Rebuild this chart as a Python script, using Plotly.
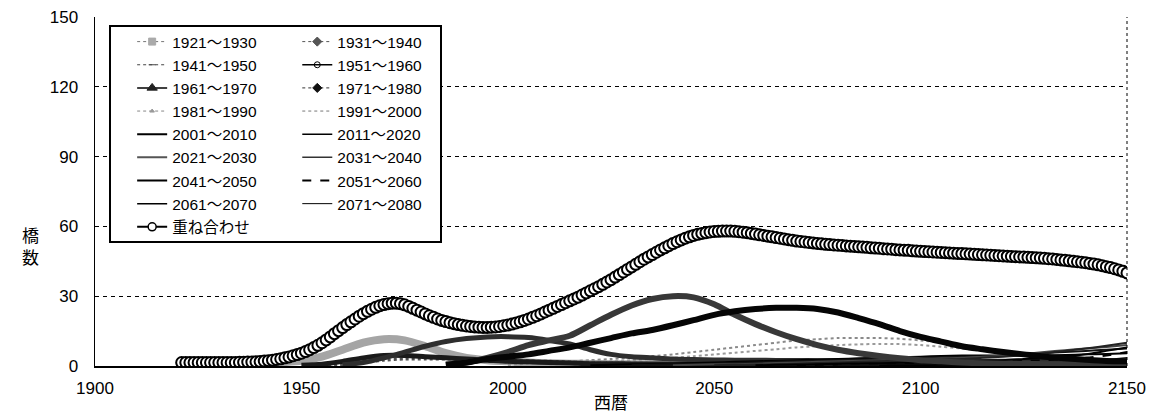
import plotly.graph_objects as go

# ---------------- data ----------------
sum_years = list(range(1921, 2151))
sum_values = [
    1.5, 1.5, 1.5, 1.5, 1.5, 1.5, 1.5, 1.5, 1.5, 1.5,
    1.5, 1.5, 1.5, 1.5, 1.6, 1.6, 1.7, 1.7, 1.8, 1.9,
    2.1, 2.3, 2.5, 2.8, 3.1, 3.5, 3.9, 4.4, 4.9, 5.5,
    6.2, 7.0, 7.9, 8.9, 10.0, 11.2, 12.5, 13.9, 15.2, 16.5,
    17.8, 19.0, 20.2, 21.4, 22.5, 23.5, 24.4, 25.2, 25.9, 26.4,
    26.8, 27.0, 27.0, 26.8, 26.3, 25.6, 24.8, 24.0, 23.2, 22.4,
    21.6, 20.9, 20.2, 19.6, 19.1, 18.6, 18.2, 17.8, 17.5, 17.2,
    17.0, 16.8, 16.7, 16.6, 16.6, 16.7, 16.8, 17.0, 17.3, 17.6,
    18.0, 18.5, 19.0, 19.6, 20.2, 20.9, 21.6, 22.4, 23.2, 24.0,
    24.8, 25.6, 26.4, 27.2, 28.0, 28.8, 29.6, 30.5, 31.4, 32.3,
    33.2, 34.1, 35.1, 36.1, 37.1, 38.2, 39.3, 40.4, 41.5, 42.6,
    43.7, 44.8, 45.9, 46.9, 47.9, 48.9, 49.9, 50.8, 51.7, 52.6,
    53.4, 54.2, 54.9, 55.5, 56.1, 56.6, 57.0, 57.3, 57.6, 57.8,
    57.9, 58.0, 58.0, 58.0, 57.9, 57.7, 57.5, 57.3, 57.0, 56.7,
    56.4, 56.1, 55.8, 55.5, 55.2, 54.9, 54.6, 54.3, 54.0, 53.7,
    53.5, 53.3, 53.1, 52.9, 52.7, 52.5, 52.3, 52.2, 52.0, 51.9,
    51.8, 51.6, 51.5, 51.4, 51.2, 51.1, 51.0, 50.8, 50.7, 50.6,
    50.4, 50.3, 50.2, 50.0, 49.9, 49.8, 49.7, 49.5, 49.4, 49.3,
    49.2, 49.1, 49.0, 48.9, 48.8, 48.7, 48.6, 48.5, 48.4, 48.3,
    48.2, 48.1, 48.0, 47.9, 47.8, 47.7, 47.6, 47.5, 47.4, 47.3,
    47.2, 47.1, 47.0, 46.9, 46.8, 46.7, 46.6, 46.5, 46.4, 46.3,
    46.1, 46.0, 45.8, 45.6, 45.4, 45.2, 45.0, 44.8, 44.6, 44.4,
    44.1, 43.8, 43.5, 43.1, 42.7, 42.3, 41.8, 41.3, 40.7, 40.0,
]

# cohort curves, sampled at 1921, 1925, 1930, ..., 2150
years5 = [1921] + list(range(1925, 2151, 5))
N = None
s1921 = [1.2, 1.2, 1.2, 1.2, 1.3, 1.6, 2.2, 4.0, 7.0, 10.0,
         11.5, 11.0, 8.5, 5.5, 3.5, 2.5, 2.0, 1.5, 1.2, 1.0,
         0.9, 0.8, 0.8, 0.8, 0.7, 0.7, 0.7, 0.6, 0.6, 0.6,
         0.6, 0.5, 0.5, 0.5, 0.5, 0.5, 0.5, 0.5, 0.5, 0.5,
         0.5, 0.5, 0.5, 0.5, 0.5, 0.5, 0.5]
s1931 = [N, N, N, N, N, N, 0.3, 0.8, 2.0, 3.5,
         4.5, 4.5, 4.0, 3.5, 3.0, 2.5, 2.0, 1.8, 1.5, 1.3,
         1.0, 1.0, 0.9, 0.9, 0.8, 0.8, 0.8, 0.8, 0.7, 0.7,
         0.7, 0.7, 0.7, 0.6, 0.6, 0.6, 0.6, 0.6, 0.6, 0.6,
         0.6, 0.6, 0.6, 0.6, 0.6, 0.6, 0.6]
s1941 = [N, N, N, N, N, N, N, 0.2, 0.5, 1.5,
         2.5, 3.0, 3.0, 3.0, 3.0, 2.8, 2.5, 2.2, 2.0, 1.8,
         1.5, 1.4, 1.2, 1.1, 1.0, 1.0, 1.0, 1.0, 1.0, 1.0,
         1.0, 1.0, 1.0, 1.0, 1.0, 1.0, 1.0, 1.0, 1.0, 1.0,
         1.0, 1.0, 1.0, 1.0, 1.0, 1.0, 1.0]
s1951 = [N, N, N, N, N, N, N, N, 0.5, 1.5,
         3.5, 6.0, 8.5, 10.5, 11.8, 12.5, 12.6, 12.2, 11.0, 9.5,
         7.0, 5.0, 4.0, 3.5, 3.0, 2.8, 2.6, 2.5, 2.5, 2.4,
         2.4, 2.3, 2.3, 2.2, 2.2, 2.2, 2.1, 2.1, 2.1, 2.0,
         2.0, 2.0, 2.0, 2.0, 2.0, 2.0, 2.0]
s1961 = [N, N, N, N, N, N, N, N, N, N,
         N, N, N, 0.5, 1.5, 3.0, 4.0, 5.0, 6.5, 8.0,
         10.0, 12.0, 14.0, 15.5, 17.5, 19.7, 22.0, 23.5, 24.5, 25.0,
         25.0, 24.5, 23.0, 20.6, 18.0, 15.0, 12.5, 10.5, 8.5, 7.2,
         6.0, 5.0, 4.0, 3.3, 2.7, 2.2, 2.0]
s1971 = [N, N, N, N, N, N, N, N, N, N,
         N, N, N, 0.5, 1.5, 3.5, 6.0, 9.0, 11.0, 13.0,
         17.5, 22.0, 26.0, 28.8, 30.0, 29.5, 26.5, 22.0, 18.0, 14.5,
         11.5, 9.0, 7.0, 5.5, 4.3, 3.3, 2.5, 2.0, 1.5, 1.2,
         1.0, 0.9, 0.8, 0.8, 0.7, 0.7, 0.7]
s1981 = [N, N, N, N, N, N, N, N, N, N,
         N, N, N, N, N, N, 0.5, 1.0, 1.5, 2.0,
         2.5, 3.0, 3.5, 4.2, 5.0, 6.0, 7.0, 8.0, 9.0, 10.0,
         11.0, 11.5, 12.0, 12.0, 12.0, 11.7, 11.0, 10.0, 8.5, 7.0,
         5.5, 4.5, 3.5, 3.0, 2.5, 2.2, 2.0]
s1991 = [N, N, N, N, N, N, N, N, N, N,
         N, N, N, N, N, N, N, N, 0.5, 1.0,
         1.5, 2.0, 2.5, 3.0, 3.5, 4.2, 5.0, 5.7, 6.5, 7.2,
         8.0, 8.5, 9.0, 9.3, 9.5, 9.4, 9.0, 8.3, 7.5, 6.5,
         5.5, 4.7, 4.0, 3.5, 3.0, 2.7, 2.5]
s2001 = [N] * 20 + [0.3, 0.5, 0.7, 0.9, 1.0, 1.3, 1.5, 1.8, 2.0, 2.3,
                    2.5, 2.8, 3.0, 3.3, 3.5, 3.8, 4.0, 4.3, 4.5, 4.5,
                    4.5, 4.5, 4.5, 4.7, 5.0, 5.2, 5.5]
s2011 = [N] * 22 + [0.3, 0.5, 0.7, 0.8, 1.0, 1.3, 1.5, 1.8,
                    2.0, 2.3, 2.5, 2.8, 3.0, 3.3, 3.5, 3.8, 4.0, 4.2,
                    4.5, 5.0, 5.5, 6.0, 6.5, 7.0, 7.5]
s2021 = [N] * 24 + [0.3, 0.5, 0.7, 0.8, 1.0, 1.3,
                    1.5, 1.8, 2.0, 2.3, 2.5, 2.8, 3.0, 3.3, 3.5, 4.0,
                    4.5, 5.2, 6.0, 6.8, 7.5, 8.2, 9.0]
s2031 = [N] * 26 + [0.3, 0.5, 0.6, 0.8,
                    1.0, 1.3, 1.5, 1.8, 2.0, 2.3, 2.5, 2.8, 3.0, 3.5,
                    4.0, 4.7, 5.5, 6.5, 7.5, 8.7, 10.0]
s2041 = [N] * 28 + [0.3, 0.5,
                    0.6, 0.8, 1.0, 1.1, 1.2, 1.4, 1.5, 1.8, 2.0, 2.3,
                    2.5, 3.0, 3.5, 4.2, 5.0, 6.5, 8.0]
s2051 = [N] * 30 + [0.3, 0.5, 0.6, 0.7, 0.8, 0.9, 1.0, 1.1, 1.3, 1.6,
                    2.0, 2.2, 2.5, 3.0, 3.5, 4.5, 6.0]
s2061 = [N] * 32 + [0.2, 0.3, 0.4, 0.5, 0.6, 0.7, 0.8, 0.9,
                    1.0, 1.2, 1.4, 1.7, 2.0, 2.7, 3.5]
s2071 = [N] * 34 + [0.2, 0.3, 0.3, 0.4, 0.5, 0.5,
                    0.6, 0.7, 0.8, 1.0, 1.2, 1.3, 1.5]

x_ticks = [1900, 1950, 2000, 2050, 2100, 2150]
y_ticks = [0, 30, 60, 90, 120, 150]

labels = ["1921～1930", "1931～1940", "1941～1950", "1951～1960",
          "1961～1970", "1971～1980", "1981～1990", "1991～2000",
          "2001～2010", "2011～2020", "2021～2030", "2031～2040",
          "2041～2050", "2051～2060", "2061～2070", "2071～2080"]
sum_label = "重ね合わせ"
series = [s1921, s1931, s1941, s1951, s1961, s1971, s1981, s1991,
          s2001, s2011, s2021, s2031, s2041, s2051, s2061, s2071]

# ---------------- styles ----------------
# style for plotted curves: (color, width, dash)
curve_style = [
    ("#a5a5a5", 8, "solid"), ("#1a1a1a", 5, "solid"), ("#505050", 3, "dot"),
    ("#2e2e2e", 5, "solid"), ("#050505", 6, "solid"), ("#383838", 6, "solid"),
    ("#8a8a8a", 2, "dot"), ("#9a9a9a", 2, "dot"),
    ("#000000", 2, "solid"), ("#111111", 2, "solid"), ("#444444", 2, "solid"),
    ("#222222", 2, "solid"), ("#000000", 2, "solid"), ("#000000", 2, "dash"),
    ("#111111", 1.5, "solid"), ("#000000", 1.5, "solid"),
]
# legend symbols: (line color, width, dash, marker symbol, marker color, size)
legend_style = [
    ("#777777", 1, "dot", "square", "#aaaaaa", 7),
    ("#555555", 1, "dot", "diamond", "#555555", 7),
    ("#444444", 1, "dot", "line-ew-open", "#444444", 5),
    ("#000000", 1.5, "solid", "circle-open", "#000000", 6),
    ("#000000", 1.5, "solid", "triangle-up", "#222222", 9),
    ("#333333", 1, "dot", "diamond", "#111111", 7),
    ("#888888", 1, "dot", "triangle-up", "#999999", 4),
    ("#777777", 1, "dot", None, None, 0),
    ("#000000", 2, "solid", None, None, 0),
    ("#000000", 1.5, "solid", None, None, 0),
    ("#555555", 2, "solid", None, None, 0),
    ("#333333", 1.5, "solid", None, None, 0),
    ("#000000", 2, "solid", None, None, 0),
    ("#000000", 2, "dash", None, None, 0),
    ("#000000", 1.5, "solid", None, None, 0),
    ("#000000", 1, "solid", None, None, 0),
]

FONT = "Liberation Sans, Arial, Noto Sans CJK JP, sans-serif"

fig = go.Figure()

# curves (lighter first)
draw_order = [0, 2, 6, 7, 1, 3, 8, 9, 10, 11, 12, 13, 14, 15, 5, 4]
for i in draw_order:
    c, w, d = curve_style[i]
    fig.add_trace(go.Scatter(
        x=years5, y=series[i], mode="lines", name=labels[i],
        line=dict(color=c, width=w, dash=d, shape="spline", smoothing=0.8),
        showlegend=False, hoverinfo="skip"))

# superposition curve
fig.add_trace(go.Scatter(
    x=sum_years, y=sum_values, mode="lines+markers", name=sum_label,
    line=dict(color="black", width=1.5),
    marker=dict(symbol="circle", size=11, color="white",
                line=dict(color="black", width=2)),
    showlegend=False, hoverinfo="skip"))

# legend entries (two columns -> two legends)
for i in range(16):
    lc, lw, ld, ms, mc, msz = legend_style[i]
    mode = "lines+markers" if ms else "lines"
    kw = dict(line=dict(color=lc, width=lw, dash=ld))
    if ms:
        kw["marker"] = dict(symbol=ms, color=mc, size=msz,
                            line=dict(color=mc, width=1))
    fig.add_trace(go.Scatter(
        x=[None], y=[None], mode=mode, name=labels[i],
        legend="legend" if i % 2 == 0 else "legend2", **kw))
fig.add_trace(go.Scatter(
    x=[None], y=[None], mode="lines+markers", name=sum_label,
    line=dict(color="black", width=2),
    marker=dict(symbol="circle", size=8, color="white",
                line=dict(color="black", width=1.5)),
    legend="legend"))

W, H = 1156, 417
ml, mr, mt, mb = 95, 29, 17, 51
PW, PH = W - ml - mr, H - mb - mt

legend_common = dict(yanchor="top", xanchor="left", y=0.977,
                     bgcolor="rgba(0,0,0,0)", borderwidth=0,
                     font=dict(size=15.5, family=FONT), traceorder="normal",
                     itemclick=False, itemdoubleclick=False)

fig.update_layout(
    width=W, height=H,
    margin=dict(l=ml, r=mr, t=mt, b=mb, autoexpand=False),
    paper_bgcolor="white", plot_bgcolor="white",
    font=dict(family=FONT, size=17, color="black"),
    xaxis=dict(range=[1900, 2150], tickvals=x_ticks, showgrid=False,
               zeroline=False, showline=True, linecolor="black", linewidth=1.5,
               ticks="outside", ticklen=6, tickcolor="rgba(0,0,0,0)",
               tickfont=dict(size=17),
               title=dict(text="西暦", font=dict(size=17), standoff=0),
               automargin=False),
    yaxis=dict(range=[0, 150], tickvals=y_ticks, showgrid=True,
               gridcolor="black", gridwidth=1, griddash="4px,4px",
               zeroline=False, showline=True, linecolor="black", linewidth=1.5,
               ticks="outside", ticklen=12, tickcolor="rgba(0,0,0,0)",
               tickfont=dict(size=17), automargin=False),
    legend=dict(x=0.036, **legend_common),
    legend2=dict(x=0.196, **legend_common),
    shapes=[
        dict(type="rect", xref="paper", yref="paper",
             x0=(110 - ml) / PW, x1=(441 - ml) / PW,
             y0=(H - mb - 242) / PH, y1=(H - mb - 26) / PH,
             line=dict(color="black", width=2), fillcolor="white",
             layer="above"),
        dict(type="line", xref="paper", yref="paper", x0=1, x1=1, y0=0, y1=1,
             line=dict(color="black", width=1, dash="dot"), layer="above"),
    ],
    annotations=[
        dict(text="橋<br>数", xref="paper", yref="paper",
             x=(20 - ml) / PW, y=(H - mb - 247) / PH,
             showarrow=False, font=dict(size=17), align="center"),
    ],
)

fig.write_html("out.html",
               config={"displayModeBar": False, "staticPlot": True},
               post_script="document.body.style.margin='0px';"
                           "document.body.style.padding='0px';")
